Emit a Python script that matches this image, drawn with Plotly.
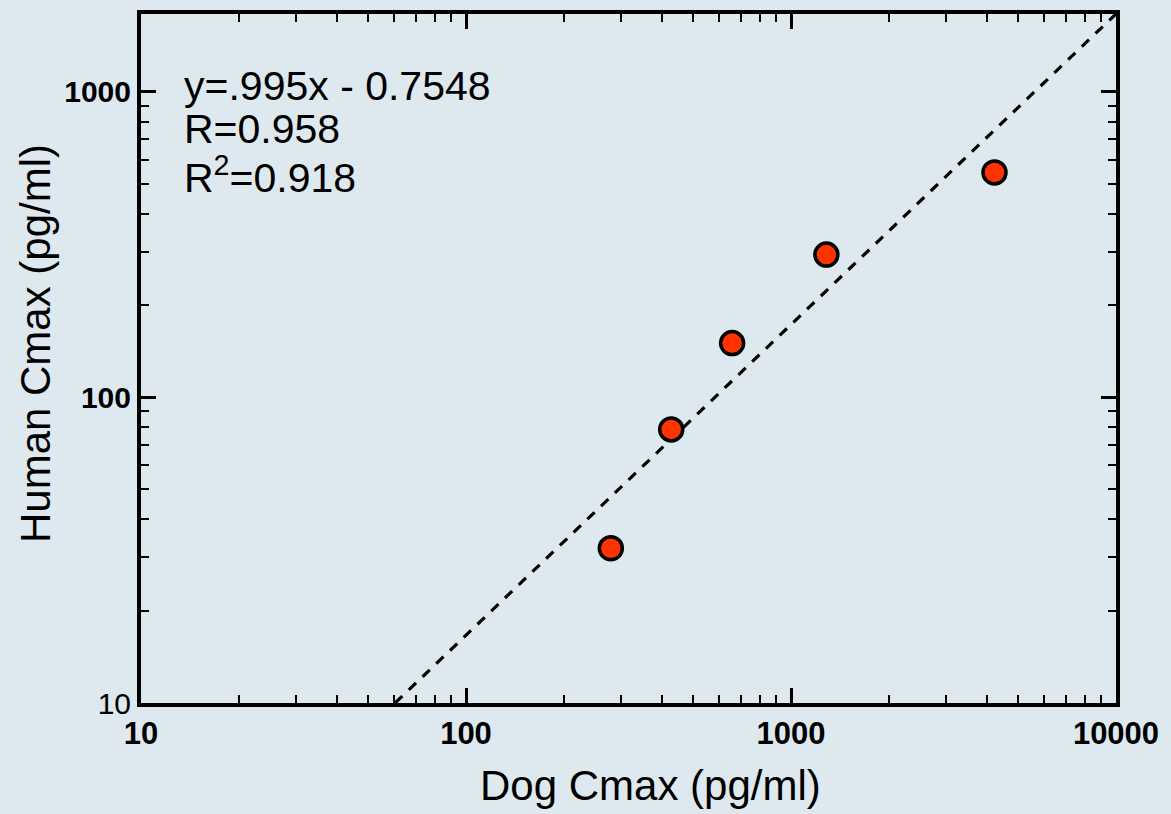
import plotly.graph_objects as go

# Data
dog_cmax = [279, 428, 659, 1285, 4228]
human_cmax = [32.1, 78.6, 150.6, 293.5, 545]

fit_x = [60.5, 10000]
fit_y = [10, 1800]

x_tickvals = [10, 100, 1000, 10000]
x_ticktext = ["<b>10</b>", "<b>100</b>", "<b>1000</b>", "<b>10000</b>"]
y_tickvals = [10, 100, 1000]
y_ticktext = ["10", "<b>100</b>", "<b>1000</b>"]

eq_lines = ["y=.995x - 0.7548", "R=0.958", "R<sup>2</sup>=0.918"]
x_title = "Dog Cmax (pg/ml)"
y_title = "Human Cmax (pg/ml)"

BG = "#dee8ef"
FONT = "Liberation Sans, Arial, sans-serif"

fig = go.Figure()
fig.add_trace(go.Scatter(
    x=fit_x, y=fit_y, mode="lines",
    line=dict(color="black", width=3.2, dash="10px,9px"),
    showlegend=False, hoverinfo="skip"))
fig.add_trace(go.Scatter(
    x=dog_cmax, y=human_cmax, mode="markers",
    marker=dict(size=23, color="#ff3300", line=dict(color="black", width=3.5)),
    showlegend=False))

minor_common = dict(ticks="inside", ticklen=8, tickwidth=2, tickcolor="black", dtick="D1")

fig.update_xaxes(
    type="log", range=[1, 4],
    tickvals=x_tickvals, ticktext=x_ticktext,
    ticks="inside", ticklen=15, tickwidth=2.5, tickcolor="black",
    minor=minor_common,
    showline=True, linewidth=4, linecolor="black", mirror="ticks",
    showgrid=False, zeroline=False,
    tickfont=dict(family=FONT, size=31, color="black"),
)
fig.update_yaxes(
    type="log", range=[1, 3.255],
    tickvals=y_tickvals, ticktext=y_ticktext,
    ticks="inside", ticklen=15, tickwidth=2.5, tickcolor="black",
    minor=minor_common,
    showline=True, linewidth=4, linecolor="black", mirror="ticks",
    showgrid=False, zeroline=False,
    tickfont=dict(family=FONT, size=30, color="black"),
)

ys = [0.896, 0.8326, 0.766]
for txt, yy in zip(eq_lines, ys):
    fig.add_annotation(
        text=txt, xref="paper", yref="paper", x=0.042, y=yy,
        xanchor="left", yanchor="middle", showarrow=False,
        font=dict(family=FONT, size=41, color="black"))

fig.add_annotation(
    text=x_title, xref="paper", yref="paper", x=0.523, y=-0.12,
    xanchor="center", yanchor="middle", showarrow=False,
    font=dict(family=FONT, size=42, color="black"))
fig.add_annotation(
    text=y_title, xref="paper", yref="paper", x=-0.1087, y=0.521,
    xanchor="center", yanchor="middle", showarrow=False, textangle=-90,
    font=dict(family=FONT, size=42, color="black"))

fig.update_layout(
    width=1171, height=814,
    margin=dict(l=141, r=55, t=10, b=111),
    paper_bgcolor=BG, plot_bgcolor=BG,
    font=dict(family=FONT, color="black"),
)

fig.write_html("out.html")
